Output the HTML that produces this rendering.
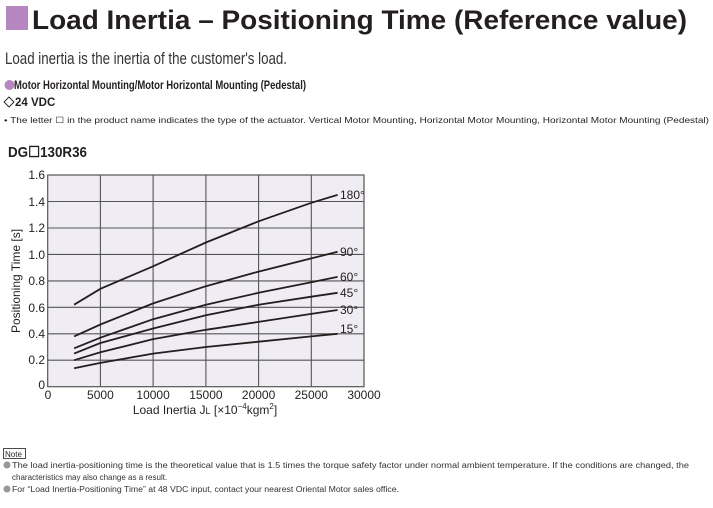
<!DOCTYPE html>
<html><head><meta charset="utf-8"><style>
body{margin:0;background:#fff;width:713px;height:503px;overflow:hidden;font-family:"Liberation Sans",sans-serif;}
</style></head><body>
<svg width="713" height="503" xmlns="http://www.w3.org/2000/svg" font-family="Liberation Sans, sans-serif">
<rect x="6" y="6" width="22" height="24" fill="#b586c0"/>
<text x="32" y="29" font-size="27" font-weight="bold" fill="#231f20" textLength="655" lengthAdjust="spacingAndGlyphs">Load Inertia – Positioning Time (Reference value)</text>
<text x="5" y="64" font-size="17" fill="#333" textLength="282" lengthAdjust="spacingAndGlyphs">Load inertia is the inertia of the customer's load.</text>
<circle cx="9.5" cy="85" r="5" fill="#b586c0"/>
<text x="14" y="89" font-size="12" font-weight="bold" fill="#231f20" textLength="292" lengthAdjust="spacingAndGlyphs">Motor Horizontal Mounting/Motor Horizontal Mounting (Pedestal)</text>
<path d="M9 97 L14 102 L9 107 L4 102 Z" fill="none" stroke="#231f20" stroke-width="0.9"/>
<text x="15" y="106" font-size="11.5" font-weight="bold" fill="#231f20">24 VDC</text>
<text x="4" y="123" font-size="8.6" fill="#231f20" textLength="705" lengthAdjust="spacingAndGlyphs">• The letter ☐ in the product name indicates the type of the actuator. Vertical Motor Mounting, Horizontal Motor Mounting, Horizontal Motor Mounting (Pedestal)</text>
<text x="8" y="157" font-size="15" font-weight="bold" fill="#231f20" textLength="79" lengthAdjust="spacingAndGlyphs">DG☐130R36</text>
<rect x="47.7" y="175" width="316.3" height="211.7" fill="#efedf3"/>
<g stroke="#555" stroke-width="1.1">
<line x1="100.4" y1="175" x2="100.4" y2="386.7"/><line x1="153.1" y1="175" x2="153.1" y2="386.7"/><line x1="205.9" y1="175" x2="205.9" y2="386.7"/><line x1="258.6" y1="175" x2="258.6" y2="386.7"/><line x1="311.3" y1="175" x2="311.3" y2="386.7"/>
<line x1="47.7" y1="360.2" x2="364" y2="360.2"/><line x1="47.7" y1="333.8" x2="364" y2="333.8"/><line x1="47.7" y1="307.3" x2="364" y2="307.3"/><line x1="47.7" y1="280.9" x2="364" y2="280.9"/><line x1="47.7" y1="254.4" x2="364" y2="254.4"/><line x1="47.7" y1="228" x2="364" y2="228"/><line x1="47.7" y1="201.5" x2="364" y2="201.5"/>
</g>
<rect x="47.7" y="175" width="316.3" height="211.7" fill="none" stroke="#555" stroke-width="1.2"/>
<g fill="none" stroke="#231f20" stroke-width="1.8">
<polyline points="74.1,304.7 100.4,288.8 153.1,266.3 205.9,242.5 258.6,221.3 311.3,202.8 337.6,194.9"/>
<polyline points="74.1,336.4 100.4,324.5 153.1,303.4 205.9,286.2 258.6,271.6 311.3,258.4 337.6,251.8"/>
<polyline points="74.1,348.3 100.4,337.7 153.1,319.2 205.9,304.7 258.6,292.8 311.3,282.2 337.6,276.9"/>
<polyline points="74.1,353.6 100.4,343 153.1,328.5 205.9,315.3 258.6,304.7 311.3,296.7 337.6,292.8"/>
<polyline points="74.1,360.2 100.4,352.3 153.1,339.1 205.9,329.8 258.6,321.9 311.3,313.9 337.6,310"/>
<polyline points="74.1,368.2 100.4,362.9 153.1,353.6 205.9,347 258.6,341.7 311.3,336.4 337.6,333.8"/>
</g>
<g font-size="12" fill="#231f20">
<text x="340" y="199">180°</text><text x="340" y="256">90°</text><text x="340" y="281">60°</text><text x="340" y="297">45°</text><text x="340" y="314">30°</text><text x="340" y="333">15°</text>
</g>
<g font-size="12" fill="#231f20" text-anchor="end">
<text x="45" y="179">1.6</text><text x="45" y="206">1.4</text><text x="45" y="232">1.2</text><text x="45" y="259">1.0</text><text x="45" y="285">0.8</text><text x="45" y="312">0.6</text><text x="45" y="338">0.4</text><text x="45" y="364">0.2</text><text x="45" y="389">0</text>
</g>
<g font-size="12" fill="#231f20" text-anchor="middle">
<text x="48" y="399">0</text><text x="100.4" y="399">5000</text><text x="153.1" y="399">10000</text><text x="205.9" y="399">15000</text><text x="258.6" y="399">20000</text><text x="311.3" y="399">25000</text><text x="364" y="399">30000</text>
<text x="205" y="414">Load Inertia J<tspan font-size="9">L</tspan> [×10<tspan font-size="8" dy="-5">−4</tspan><tspan dy="5">kgm</tspan><tspan font-size="8" dy="-5">2</tspan><tspan dy="5">]</tspan></text>
</g>
<text transform="translate(20,281) rotate(-90)" font-size="12" fill="#231f20" text-anchor="middle">Positioning Time [s]</text>
<rect x="3.5" y="448.5" width="22" height="10" fill="none" stroke="#231f20" stroke-width="0.8"/>
<text x="5" y="457" font-size="8" fill="#231f20">Note</text>
<g font-size="8" fill="#333">
<circle cx="7" cy="465" r="3.5" fill="#999"/>
<text x="12" y="468" textLength="677" lengthAdjust="spacingAndGlyphs">The load inertia-positioning time is the theoretical value that is 1.5 times the torque safety factor under normal ambient temperature. If the conditions are changed, the</text>
<text x="12" y="480">characteristics may also change as a result.</text>
<circle cx="7" cy="489" r="3.5" fill="#999"/>
<text x="12" y="492" textLength="387" lengthAdjust="spacingAndGlyphs">For “Load Inertia-Positioning Time” at 48 VDC input, contact your nearest Oriental Motor sales office.</text>
</g>
</svg>
</body></html>
